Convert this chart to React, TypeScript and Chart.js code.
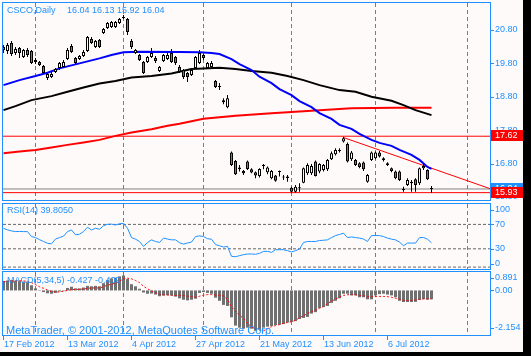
import React, { useEffect, useRef } from "react";
import { Chart, registerables } from "chart.js";

Chart.register(...registerables);

const BLUE = "#1E90FF";
const BG = "#FFFAFA";
const FONT = '9px "Liberation Sans", Arial, sans-serif';
const FONT_BIG = '11px "Liberation Sans", Arial, sans-serif';

// ---- Data: CSCO daily, bar 0 = 17 Feb 2012 ----
const OPEN = [20.29,20.17,20.41,20.11,20.26,19.99,20.20,20.17,19.84,19.84,19.72,19.36,19.39,19.54,19.66,19.69,19.93,20.32,19.96,19.93,20.02,20.17,20.53,20.29,20.50,20.71,20.86,20.89,20.89,21.01,21.16,21.13,20.47,20.11,20.05,19.84,19.84,19.99,19.96,19.57,19.87,19.93,20.11,19.99,19.69,19.60,19.51,19.45,19.66,19.81,20.05,19.66,19.69,19.27,19.12,18.70,18.49,17.13,16.88,16.68,16.58,16.86,16.63,16.54,16.43,16.76,16.54,16.36,16.44,16.57,16.41,16.41,16.08,15.96,16.06,16.23,16.51,16.51,16.86,16.56,16.61,16.63,16.93,17.08,17.18,17.46,17.39,16.93,16.91,16.81,16.83,16.26,16.91,16.96,17.13,16.96,16.81,16.66,16.56,16.56,16.04,16.16,16.26,16.33,16.21,16.66,16.61,16.04];
const HIGH = [20.35,20.41,20.47,20.29,20.29,20.23,20.26,20.20,19.96,19.87,19.75,19.51,19.54,19.66,19.84,19.90,20.26,20.38,19.99,20.05,20.20,20.62,20.59,20.50,20.53,20.86,21.04,21.07,21.07,21.16,21.25,21.16,20.53,20.23,20.08,19.87,20.02,20.26,20.02,19.72,20.08,20.11,20.23,20.02,19.75,19.63,19.54,19.63,20.02,20.20,20.08,19.84,19.87,19.30,19.21,18.76,18.85,17.16,16.91,16.76,16.61,16.89,16.66,16.56,16.66,16.79,16.71,16.61,16.46,16.59,16.46,16.46,16.11,16.16,16.21,16.68,16.81,16.79,16.89,16.81,16.79,16.94,17.16,17.26,17.26,17.60,17.43,17.18,16.94,16.84,16.86,16.49,17.16,17.16,17.18,16.99,16.84,16.68,16.59,16.59,16.11,16.36,16.31,16.36,16.68,16.81,16.63,16.13];
const LOW = [20.11,20.08,20.02,20.05,19.96,19.96,19.99,19.78,19.78,19.72,19.48,19.30,19.36,19.51,19.60,19.66,19.90,20.11,19.78,19.90,19.99,20.14,20.38,20.26,20.26,20.68,20.83,20.86,20.86,20.98,21.13,20.65,20.23,20.08,19.87,19.48,19.81,19.96,19.81,19.54,19.84,19.90,19.81,19.75,19.51,19.33,19.24,19.42,19.63,19.78,19.90,19.63,19.66,19.06,19.00,18.58,18.46,16.73,16.46,16.56,16.46,16.61,16.51,16.36,16.38,16.63,16.48,16.33,16.26,16.41,16.31,16.26,15.93,15.93,15.96,16.21,16.46,16.46,16.41,16.51,16.56,16.58,16.91,17.04,17.13,17.43,16.83,16.88,16.73,16.66,16.58,16.23,16.88,16.93,16.98,16.86,16.73,16.54,16.33,16.28,15.96,16.13,15.96,15.96,16.16,16.61,16.31,15.92];
const CLOSE = [20.20,20.35,20.08,20.23,20.11,20.20,20.05,19.81,19.90,19.75,19.51,19.48,19.48,19.63,19.81,19.84,20.20,20.14,19.81,20.02,20.14,20.59,20.41,20.47,20.29,20.83,21.01,21.04,21.04,21.13,21.19,20.74,20.29,20.20,19.90,19.51,19.99,20.11,19.87,19.69,20.05,20.05,19.84,19.81,19.54,19.39,19.39,19.60,19.99,20.11,19.96,19.81,19.81,19.09,19.09,18.64,18.76,16.76,16.48,16.63,16.51,16.64,16.53,16.44,16.64,16.73,16.68,16.58,16.29,16.55,16.38,16.36,15.96,16.11,16.08,16.66,16.76,16.73,16.43,16.79,16.76,16.91,17.11,17.21,17.20,17.56,16.86,17.13,16.76,16.70,16.63,16.46,17.13,17.13,17.01,16.91,16.76,16.58,16.36,16.31,16.01,16.31,16.21,16.16,16.66,16.73,16.33,16.04];

// moving averages (bar index, price)
const MA_FAST_IDX = [0,4,8,11,14,19,24,27,30,34,44,49,52,54,57,59,62,64,67,69,72,74,77,79,82,84,87,89,92,94,97,99,102,104,106,107];
const MA_FAST_VAL = [19.15,19.30,19.42,19.52,19.65,19.80,19.95,20.05,20.13,20.15,20.14,20.13,20.11,20.08,19.93,19.78,19.60,19.40,19.21,19.03,18.85,18.67,18.49,18.31,18.14,17.96,17.84,17.69,17.51,17.42,17.33,17.21,17.06,16.91,16.70,16.64];
const MA_MID_IDX = [0,3,7,12,16,20,24,28,32,37,42,47,50,54,58,62,67,71,75,79,84,88,92,97,100,103,107];
const MA_MID_VAL = [18.40,18.52,18.70,18.82,18.95,19.08,19.20,19.27,19.38,19.42,19.50,19.63,19.65,19.67,19.63,19.57,19.52,19.42,19.30,19.15,19.00,18.95,18.80,18.68,18.55,18.40,18.25];
const MA_SLOW_IDX = [0,4,8,12,16,20,24,28,32,37,41,44,50,58,67,75,83,87,98,107];
const MA_SLOW_VAL = [17.11,17.16,17.21,17.28,17.36,17.43,17.51,17.63,17.73,17.83,17.93,17.99,18.14,18.23,18.31,18.37,18.43,18.46,18.47,18.47];

const TREND_IDX = [85, 121.625];
const TREND_VAL = [17.58, 16.05];
const RED_LEVELS = [17.62, 15.93];
const BID = 16.04;

const RSI = [63.7,61.0,59.3,58.2,58.5,58.2,58.2,50.1,48.4,45.0,42.0,39.0,38.2,46.0,48.4,50.7,58.2,60.9,53.0,53.9,58.2,65.3,60.9,63.7,62.0,67.9,70.1,70.5,69.0,71.1,71.5,63.7,48.4,45.8,42.0,33.9,40.3,44.7,42.0,40.5,47.5,46.0,44.7,44.7,40.0,37.7,39.5,41.0,50.0,51.2,50.1,46.5,45.8,37.0,35.0,32.9,34.0,17.7,17.0,18.8,20.4,21.5,21.5,21.0,22.5,25.8,25.8,24.1,28.5,28.5,28.5,26.9,24.8,27.0,29.6,40.3,42.0,42.0,42.0,43.6,44.0,44.7,48.4,51.7,53.5,55.6,48.4,49.5,48.4,47.5,46.0,42.0,51.7,51.7,51.7,50.0,47.5,45.8,44.7,41.0,35.0,39.4,39.4,39.4,48.4,48.4,45.8,39.805];
const RSI_LEVELS = [70, 30, 0];
const RSI_TICKS = [100, 70, 30, 0];

const MACD_MAIN = [0.45,0.48,0.50,0.47,0.45,0.42,0.40,0.25,0.10,0.02,-0.08,-0.14,-0.16,-0.12,-0.05,0.02,0.12,0.18,0.10,0.10,0.14,0.22,0.20,0.22,0.20,0.35,0.50,0.58,0.62,0.68,0.72,0.55,0.30,0.20,0.08,-0.10,-0.16,-0.15,-0.20,-0.28,-0.25,-0.22,-0.24,-0.30,-0.38,-0.45,-0.48,-0.45,-0.40,-0.12,-0.08,-0.12,-0.16,-0.35,-0.50,-0.70,-0.75,-1.30,-1.70,-1.80,-1.85,-1.80,-1.85,-1.95,-1.90,-1.80,-1.75,-1.72,-1.67,-1.66,-1.62,-1.55,-1.52,-1.48,-1.38,-1.33,-1.28,-1.12,-1.05,-0.85,-0.80,-0.75,-0.60,-0.50,-0.38,-0.16,-0.16,-0.24,-0.24,-0.33,-0.33,-0.43,-0.43,-0.24,-0.18,-0.16,-0.20,-0.24,-0.33,-0.50,-0.56,-0.56,-0.56,-0.55,-0.46,-0.42,-0.45,-0.427];
const MACD_SIGNAL = [0.42,0.44,0.46,0.47,0.47,0.46,0.44,0.38,0.28,0.18,0.10,0.02,-0.05,-0.08,-0.07,-0.04,0.00,0.04,0.05,0.05,0.07,0.10,0.12,0.12,0.12,0.18,0.26,0.30,0.35,0.45,0.56,0.59,0.56,0.48,0.38,0.20,0.08,-0.02,-0.12,-0.18,-0.21,-0.23,-0.24,-0.24,-0.24,-0.25,-0.28,-0.30,-0.33,-0.28,-0.23,-0.20,-0.20,-0.22,-0.24,-0.26,-0.45,-0.80,-1.00,-1.20,-1.35,-1.60,-1.75,-1.88,-1.92,-1.95,-1.85,-1.75,-1.70,-1.65,-1.59,-1.55,-1.51,-1.45,-1.32,-1.22,-1.11,-1.03,-0.95,-0.87,-0.78,-0.63,-0.52,-0.42,-0.32,-0.24,-0.21,-0.20,-0.21,-0.24,-0.26,-0.29,-0.30,-0.30,-0.29,-0.29,-0.30,-0.33,-0.38,-0.43,-0.48,-0.48,-0.48,-0.46,-0.43,-0.41,-0.40,-0.409];
const MACD_TICKS = [0.891, 0, -2.154];

const PRICE_TICKS = [20.8, 19.8, 18.8, 17.8, 16.8, 15.8];
const SEPARATORS = [8, 30, 50, 72, 93, 116];
const DATE_IDX = [0, 16, 32, 48, 64, 80, 96];
const DATE_LABELS = ["17 Feb 2012", "13 Mar 2012", "4 Apr 2012", "27 Apr 2012", "21 May 2012", "13 Jun 2012", "6 Jul 2012"];

const X_MIN = -0.125;
const X_MAX = 121.625;

const IDX = OPEN.map((_, i) => i);

function baseOptions(yMin: number, yMax: number, padding: any): any {
  return {
    responsive: false,
    animation: false,
    events: [],
    layout: { padding },
    plugins: { legend: { display: false }, tooltip: { enabled: false } },
    scales: {
      x: { type: "linear", min: X_MIN, max: X_MAX, display: false, offset: false },
      y: { type: "linear", min: yMin, max: yMax, display: false },
    },
  };
}

function line(xs: number[], ys: number[], color: string, width: number, order: number, dash: number[] = []): any {
  return {
    type: "line",
    data: xs.map((x, k) => ({ x, y: ys[k] })),
    borderColor: color,
    borderWidth: width,
    borderDash: dash,
    pointRadius: 0,
    fill: false,
    tension: 0,
    order,
  };
}

function drawSeparators(chart: any) {
  const { ctx, chartArea: a, scales } = chart;
  ctx.save();
  ctx.beginPath();
  ctx.rect(a.left, a.top, a.right - a.left, a.bottom - a.top);
  ctx.clip();
  ctx.strokeStyle = BLUE;
  ctx.lineWidth = 1;
  ctx.setLineDash([4, 3]);
  for (const s of SEPARATORS) {
    const px = scales.x.getPixelForValue(s);
    ctx.beginPath();
    ctx.moveTo(px, a.top);
    ctx.lineTo(px, a.bottom);
    ctx.stroke();
  }
  ctx.restore();
}

function drawFrame(chart: any) {
  const { ctx, chartArea: a } = chart;
  ctx.save();
  ctx.strokeStyle = BLUE;
  ctx.lineWidth = 1;
  ctx.setLineDash([]);
  ctx.strokeRect(a.left - 0.5, a.top - 0.5, a.right - a.left + 1, a.bottom - a.top + 1);
  ctx.restore();
}

function drawRightLabels(chart: any, ticks: number[], fmt: (v: number) => string, cTop: number, cBot: number) {
  const { ctx, chartArea: a, scales } = chart;
  ctx.save();
  ctx.font = FONT;
  ctx.fillStyle = BLUE;
  ctx.strokeStyle = BLUE;
  ctx.lineWidth = 1;
  ctx.textBaseline = "middle";
  ctx.textAlign = "left";
  for (const t of ticks) {
    let py = scales.y.getPixelForValue(t);
    py = Math.min(Math.max(py, a.top + cTop), a.bottom - cBot);
    const ry = Math.round(py) + 0.5;
    ctx.beginPath();
    ctx.moveTo(a.right + 1, ry);
    ctx.lineTo(a.right + 4, ry);
    ctx.stroke();
    ctx.fillText(fmt(t), a.right + 5, py);
  }
  ctx.restore();
}

function drawText(chart: any, text: string, x: number, y: number, font = FONT) {
  const { ctx } = chart;
  ctx.save();
  ctx.font = font;
  ctx.fillStyle = BLUE;
  ctx.textBaseline = "middle";
  ctx.textAlign = "left";
  ctx.fillText(text, x, y);
  ctx.restore();
}

function priceBox(chart: any, value: number, color: string) {
  const { ctx, chartArea: a, scales } = chart;
  const py = scales.y.getPixelForValue(value);
  ctx.save();
  ctx.fillStyle = color;
  ctx.fillRect(a.right + 1, Math.round(py) - 6, 32, 11);
  ctx.font = FONT;
  ctx.fillStyle = "#FFFFFF";
  ctx.textBaseline = "middle";
  ctx.textAlign = "left";
  ctx.fillText(value.toFixed(2), a.right + 5, Math.round(py) - 0.5);
  ctx.restore();
}

function mainConfig(): any {
  const last = OPEN.length - 1;
  const decor = {
    id: "mainDecor",
    beforeDatasetsDraw: (c: any) => drawSeparators(c),
    afterDraw: (c: any) => {
      drawFrame(c);
      drawRightLabels(c, PRICE_TICKS, (v) => v.toFixed(2), -100, -100);
      priceBox(c, BID, BLUE);
      RED_LEVELS.forEach((v) => priceBox(c, v, "#FF0000"));
      const a = c.chartArea;
      drawText(c, "CSCO,Daily", a.left + 4, a.top + 7.5);
      drawText(
        c,
        [OPEN[last], HIGH[last], LOW[last], CLOSE[last]].map((v) => v.toFixed(2)).join(" "),
        a.left + 64,
        a.top + 7.5
      );
    },
  };
  return {
    type: "bar",
    data: {
      datasets: [
        {
          type: "bar",
          data: IDX.map((i) => ({ x: i, y: [OPEN[i], CLOSE[i]] })),
          backgroundColor: IDX.map((i) => (CLOSE[i] >= OPEN[i] ? BG : BLUE)),
          borderColor: "#000000",
          borderWidth: 1,
          borderSkipped: false,
          barThickness: 3,
          grouped: false,
          inflateAmount: 0,
          minBarLength: 1,
          order: 1,
        },
        {
          type: "bar",
          data: IDX.map((i) => ({ x: i, y: [LOW[i], HIGH[i]] })),
          backgroundColor: "#000000",
          borderWidth: 0,
          barThickness: 1,
          grouped: false,
          inflateAmount: 0,
          order: 2,
        },
        line(MA_FAST_IDX, MA_FAST_VAL, "#0000FF", 2, 3),
        line(MA_MID_IDX, MA_MID_VAL, "#000000", 2, 4),
        line(MA_SLOW_IDX, MA_SLOW_VAL, "#FF0000", 2, 5),
        line(TREND_IDX, TREND_VAL, "#FF0000", 1, 6),
        ...RED_LEVELS.map((v) => line([X_MIN, X_MAX], [v, v], "#FF0000", 1, 7)),
        line([X_MIN, X_MAX], [BID, BID], "#808080", 1, 8),
      ],
    },
    options: baseOptions(15.71, 21.608, { left: 3, right: 33, top: 3, bottom: 2 }),
    plugins: [decor],
  };
}

function rsiConfig(): any {
  const decor = {
    id: "rsiDecor",
    beforeDatasetsDraw: (c: any) => drawSeparators(c),
    afterDraw: (c: any) => {
      drawFrame(c);
      drawRightLabels(c, RSI_TICKS, (v) => String(v), 6, 5);
      const a = c.chartArea;
      drawText(c, "RSI(14) " + RSI[RSI.length - 1].toFixed(4), a.left + 4, a.top + 7);
    },
  };
  return {
    type: "line",
    data: {
      datasets: [
        line(IDX, RSI, BLUE, 1, 1),
        ...RSI_LEVELS.map((v) => line([X_MIN, X_MAX], [v, v], "#666666", 1, 2, [3, 2])),
      ],
    },
    options: baseOptions(-3.11, 103.44, { left: 3, right: 33, top: 2, bottom: 1 }),
    plugins: [decor],
  };
}

function macdConfig(): any {
  const last = MACD_MAIN.length - 1;
  const decor = {
    id: "macdDecor",
    beforeDatasetsDraw: (c: any) => drawSeparators(c),
    afterDraw: (c: any) => {
      drawFrame(c);
      const a = c.chartArea;
      drawRightLabels(c, MACD_TICKS, (v) => (v === 0 ? "0.00" : v.toFixed(3)), 6, 7);
      drawText(
        c,
        "MACD(5,34,5) " + MACD_MAIN[last].toFixed(3) + " " + MACD_SIGNAL[last].toFixed(3),
        a.left + 4,
        a.top + 9
      );
      drawText(c, "MetaTrader, \u00A9 2001-2012, MetaQuotes Software Corp.", a.left + 3, a.bottom - 4.5, FONT_BIG);
      const { ctx, scales } = c;
      ctx.save();
      ctx.strokeStyle = BLUE;
      ctx.lineWidth = 1;
      ctx.font = FONT;
      ctx.fillStyle = BLUE;
      ctx.textBaseline = "middle";
      ctx.textAlign = "left";
      DATE_IDX.forEach((d, k) => {
        const px = scales.x.getPixelForValue(d);
        ctx.beginPath();
        ctx.moveTo(px, a.bottom + 1);
        ctx.lineTo(px, a.bottom + 5);
        ctx.stroke();
        ctx.fillText(DATE_LABELS[k], px + 0.5, a.bottom + 9.5);
      });
      ctx.restore();
    },
  };
  return {
    type: "bar",
    data: {
      datasets: [
        line(IDX, MACD_SIGNAL, "#FF0000", 1, 1, [2, 2]),
        {
          type: "bar",
          data: IDX.map((i) => ({ x: i, y: MACD_MAIN[i] })),
          backgroundColor: "#707070",
          borderWidth: 0,
          barThickness: 3,
          grouped: false,
          inflateAmount: 0,
          order: 2,
        },
      ],
    },
    options: baseOptions(-2.154, 0.891, { left: 3, right: 33, top: 2, bottom: 17 }),
    plugins: [decor],
  };
}

export default function App() {
  const mainRef = useRef<HTMLCanvasElement>(null);
  const rsiRef = useRef<HTMLCanvasElement>(null);
  const macdRef = useRef<HTMLCanvasElement>(null);

  useEffect(() => {
    const charts = [
      new Chart(mainRef.current as HTMLCanvasElement, mainConfig()),
      new Chart(rsiRef.current as HTMLCanvasElement, rsiConfig()),
      new Chart(macdRef.current as HTMLCanvasElement, macdConfig()),
    ];
    return () => charts.forEach((c) => c.destroy());
  }, []);

  return (
    <div style={{ position: "fixed", left: 0, top: 0, width: 531, height: 356, background: "#000", overflow: "hidden" }}>
      <div style={{ position: "absolute", left: 0, top: 0, width: 523, height: 352, background: BG }}>
        <canvas ref={mainRef} width={523} height={202} style={{ position: "absolute", left: 0, top: 0, display: "block" }} />
        <canvas ref={rsiRef} width={523} height={68} style={{ position: "absolute", left: 0, top: 202, display: "block" }} />
        <canvas ref={macdRef} width={523} height={82} style={{ position: "absolute", left: 0, top: 270, display: "block" }} />
      </div>
    </div>
  );
}
